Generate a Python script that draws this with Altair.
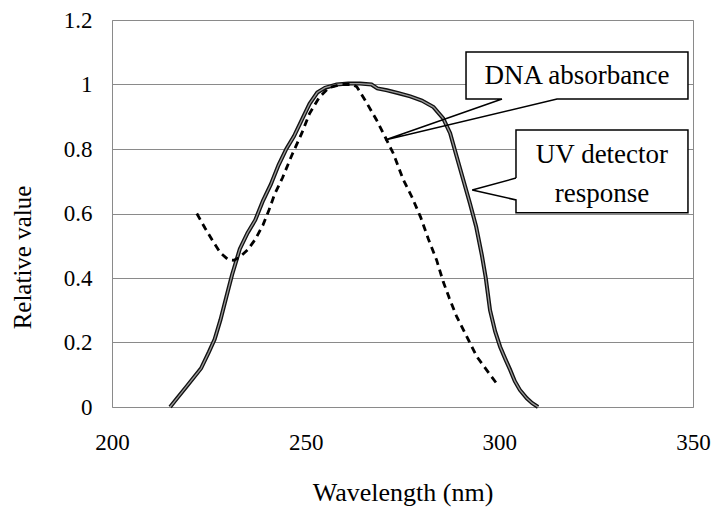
import altair as alt
import pandas as pd

# ---- data ----
uv_wl = [215, 217, 219, 221, 223, 225, 226.5, 228, 229.5, 231, 233, 235, 237, 239, 241, 243, 245, 247,
         249, 251, 253, 255, 258, 261, 264, 267, 268.5, 271, 274, 277, 280, 283, 285.5, 287.3, 289,
         290.7, 292.4, 294, 295.5, 296.5, 297.6, 298.9, 300.2, 301.5, 302.8, 304, 305.3, 307.1, 308.5, 310]
uv_val = [0.0, 0.03, 0.06, 0.09, 0.12, 0.17, 0.21, 0.27, 0.34, 0.41, 0.49, 0.54, 0.58, 0.64, 0.69, 0.75,
          0.80, 0.84, 0.89, 0.94, 0.975, 0.99, 1.0, 1.003, 1.003, 1.0, 0.988, 0.982, 0.973, 0.963, 0.95,
          0.93, 0.895, 0.849, 0.776, 0.704, 0.632, 0.56, 0.47, 0.40, 0.30, 0.235, 0.187, 0.15, 0.115,
          0.08, 0.053, 0.027, 0.012, 0.0]

dna_wl = [221.9, 224, 226, 228, 230, 231.5, 233, 235, 237, 239, 240.5, 242, 244, 246.4, 249, 251, 253.5,
          256, 259, 262, 263.2, 265.8, 268.3, 270.5, 272.6, 275.2, 277.4, 279.7, 281.7, 283.8, 285.5,
          287.1, 289, 291.6, 294.2, 296.7, 299.3, 300]
dna_val = [0.60, 0.555, 0.515, 0.478, 0.457, 0.455, 0.465, 0.487, 0.52, 0.565, 0.61, 0.66, 0.71, 0.78,
           0.849, 0.91, 0.96, 0.99, 1.0, 1.0, 0.993, 0.942, 0.89, 0.838, 0.787, 0.705, 0.652, 0.588,
           0.52, 0.456, 0.389, 0.337, 0.28, 0.218, 0.156, 0.115, 0.073, 0.065]

x_ticks = [200, 250, 300, 350]
y_ticks = [0, 0.2, 0.4, 0.6, 0.8, 1.0, 1.2]

# callout annotations (data units)
dna_label = "DNA absorbance"
uv_label = ["UV detector", "response"]
dna_box = dict(x1=291.4, x2=348.7, y1=0.955, y2=1.101)
uv_box = dict(x1=304.3, x2=348.7, y1=0.602, y2=0.859)
dna_tip = (270.5, 0.828)
uv_tip = (293.0, 0.673)

FONT = "Liberation Serif, Times New Roman, DejaVu Serif, serif"

uv_df = pd.DataFrame({"wl": uv_wl, "val": uv_val})
dna_df = pd.DataFrame({"wl": dna_wl, "val": dna_val})

x_scale = alt.Scale(domain=[200, 350], nice=False, zero=False)
y_scale = alt.Scale(domain=[0, 1.2], nice=False)

x_enc = alt.X("wl:Q", scale=x_scale,
              axis=alt.Axis(values=x_ticks, title="Wavelength (nm)", grid=False, domain=False,
                            ticks=False, labelFlush=False, labelPadding=24, labelFontSize=23,
                            labelFont=FONT, labelColor="black", titleFont=FONT, titleFontSize=26,
                            titleFontWeight="normal", titleColor="black",
                            titleBaseline="alphabetic", titleY=93))
y_enc = alt.Y("val:Q", scale=y_scale,
              axis=alt.Axis(values=y_ticks, format=".1~f", title="Relative value", grid=True,
                            gridColor="#8a8a8a", gridWidth=1, domain=False, ticks=False,
                            labelPadding=20, labelFontSize=23, labelFont=FONT, labelColor="black",
                            titleFont=FONT, titleFontSize=25, titleFontWeight="normal",
                            titleColor="black", titleBaseline="alphabetic", titleX=-82,
                            titleY=237, titleAngle=-90))

uv_outer = alt.Chart(uv_df).mark_line(color="#111111", strokeWidth=4).encode(x=x_enc, y=y_enc)
uv_inner = alt.Chart(uv_df).mark_line(color="#9a9a9a", strokeWidth=1.3).encode(x="wl:Q", y="val:Q")
dna_line = alt.Chart(dna_df).mark_line(color="black", strokeWidth=2.8, strokeDash=[7, 5]).encode(
    x="wl:Q", y="val:Q")

# callout fills
boxes = pd.DataFrame([dna_box, uv_box])
box_fill = alt.Chart(boxes).mark_rect(fill="white").encode(
    x="x1:Q", x2="x2", y="y1:Q", y2="y2")

# callout outlines (box with pointer)
dna_px1, dna_px2 = 300.7, 314.9       # pointer base on bottom edge
uv_py1, uv_py2 = 0.710, 0.642         # pointer base on left edge
dna_path = [
    (dna_px1, dna_box["y1"]), (dna_box["x1"], dna_box["y1"]), (dna_box["x1"], dna_box["y2"]),
    (dna_box["x2"], dna_box["y2"]), (dna_box["x2"], dna_box["y1"]), (dna_px2, dna_box["y1"]),
    dna_tip, (dna_px1, dna_box["y1"]),
]
uv_path = [
    (uv_box["x1"], uv_py1), (uv_box["x1"], uv_box["y2"]), (uv_box["x2"], uv_box["y2"]),
    (uv_box["x2"], uv_box["y1"]), (uv_box["x1"], uv_box["y1"]), (uv_box["x1"], uv_py2),
    uv_tip, (uv_box["x1"], uv_py1),
]
rows = []
for name, path in (("dna", dna_path), ("uv", uv_path)):
    for i, (px, py) in enumerate(path):
        rows.append({"c": name, "o": i, "wl": px, "val": py})
outline = alt.Chart(pd.DataFrame(rows)).mark_line(color="black", strokeWidth=1.5).encode(
    x="wl:Q", y="val:Q", detail="c:N", order="o:Q")

texts = pd.DataFrame({
    "wl": [(dna_box["x1"] + dna_box["x2"]) / 2, (uv_box["x1"] + uv_box["x2"]) / 2,
           (uv_box["x1"] + uv_box["x2"]) / 2],
    "val": [1.027, 0.781, 0.660],
    "t": [dna_label] + uv_label,
})
text_layer = alt.Chart(texts).mark_text(font=FONT, fontSize=27, color="black",
                                        baseline="middle", align="center").encode(
    x="wl:Q", y="val:Q", text="t:N")

chart = alt.layer(uv_outer, uv_inner, dna_line, box_fill, outline, text_layer).properties(
    width=581, height=387,
    padding={"left": 112, "top": 20, "right": 22, "bottom": 101},
    autosize=alt.AutoSizeParams(type="none"),
    background="white",
).configure_view(stroke="#8a8a8a", strokeWidth=1)

chart.save("out.html", embed_options={"renderer": "svg", "actions": False})
